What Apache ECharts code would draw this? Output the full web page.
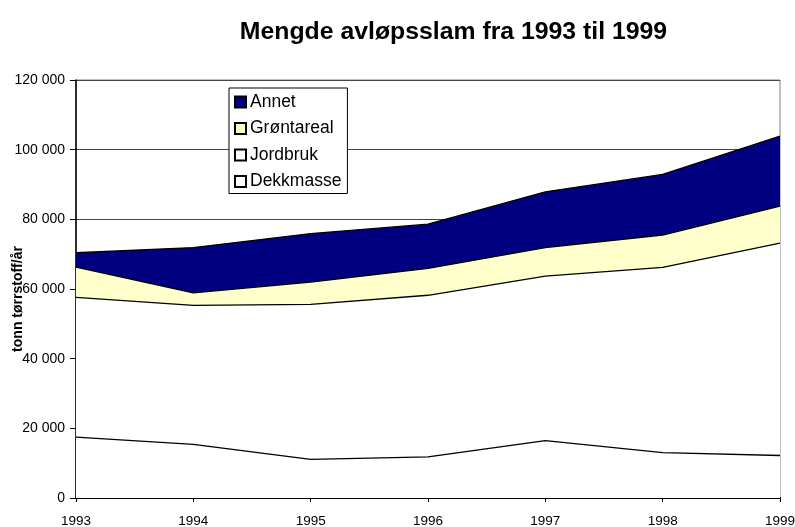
<!DOCTYPE html>
<html><head><meta charset="utf-8">
<script src="https://cdn.jsdelivr.net/npm/echarts@6/dist/echarts.min.js"></script>
<style>html,body{margin:0;padding:0;background:#fff}#c{width:795px;height:527px}</style>
</head><body><div id="c"></div>
<script>
var years = ['1993','1994','1995','1996','1997','1998','1999'];
// stack increments (tonn tørrstoff/år)
var dekkmasse  = [17500, 15400, 11100, 11800, 16500, 13000, 12200];
var jordbruk   = [40100, 39900, 44500, 46400, 47200, 53200, 61000];
var grontareal = [8700, 3600, 6400, 7700, 8200, 9300, 10600];
var annet      = [4100, 13000, 13900, 12700, 16000, 17400, 20100];
var yTicks = [0, 20000, 40000, 60000, 80000, 100000, 120000];

var FONT = 'Liberation Sans, Arial, sans-serif';
function mk(name, data, color) {
  return {
    name: name, type: 'line', stack: 'total', data: data,
    symbol: 'none', smooth: false,
    lineStyle: {color: '#000', width: 1.3},
    itemStyle: {color: color, borderColor: '#000', borderWidth: 1},
    areaStyle: {color: color, opacity: 1}
  };
}
var chart = echarts.init(document.getElementById('c'), null, {renderer: 'canvas'});
chart.setOption({
  animation: false,
  backgroundColor: '#fff',
  title: {
    text: 'Mengde avløpsslam fra 1993 til 1999',
    left: 448.5, top: 15, textAlign: 'center',
    textStyle: {fontFamily: FONT, fontSize: 24.8, fontWeight: 'bold', color: '#000'}
  },
  legend: {
    orient: 'vertical', left: 229, top: 88,
    data: ['Annet', 'Grøntareal', 'Jordbruk', 'Dekkmasse'],
    backgroundColor: '#fff', borderColor: '#000', borderWidth: 1,
    padding: [5, 6, 3, 5], itemGap: 8.5, itemWidth: 11, itemHeight: 11,
    icon: 'rect',
    textStyle: {fontFamily: FONT, fontSize: 17.5, color: '#000', padding: [0, 0, 0, -1]}
  },
  grid: {left: 76, right: 15, top: 80, bottom: 29, show: true, borderColor: '#808080', borderWidth: 1,
    containLabel: false, outerBoundsMode: 'none'},
  xAxis: {
    type: 'category', data: years, boundaryGap: false,
    axisLine: {lineStyle: {color: '#000', width: 2}},
    axisTick: {show: true, length: 4, lineStyle: {color: '#000'}},
    axisLabel: {fontFamily: FONT, fontSize: 13.5, color: '#000', margin: 16},
    splitLine: {show: false}
  },
  yAxis: {
    type: 'value', min: yTicks[0], max: yTicks[yTicks.length - 1], interval: yTicks[1] - yTicks[0],
    name: 'tonn tørrstoff/år', nameLocation: 'middle', nameGap: 51, nameMoveOverlap: false,
    nameTextStyle: {fontFamily: FONT, fontSize: 14, fontWeight: 'bold', color: '#000', padding: [0, 20, 0, 0]},
    axisLine: {show: true, lineStyle: {color: '#000', width: 1.5}},
    axisTick: {show: true, length: 6, lineStyle: {color: '#000'}},
    axisLabel: {fontFamily: FONT, fontSize: 14, color: '#000', margin: 11, padding: [3, 0, 0, 0],
      formatter: function (v) { return String(v).replace(/\B(?=(\d{3})+(?!\d))/g, ' '); }},
    splitLine: {show: true, lineStyle: {color: '#444', width: 1}}
  },
  series: [
    mk('Dekkmasse', dekkmasse, '#ffffff'),
    mk('Jordbruk', jordbruk, '#ffffff'),
    mk('Grøntareal', grontareal, '#ffffcc'),
    mk('Annet', annet, '#000080')
  ]
});
</script></body></html>
